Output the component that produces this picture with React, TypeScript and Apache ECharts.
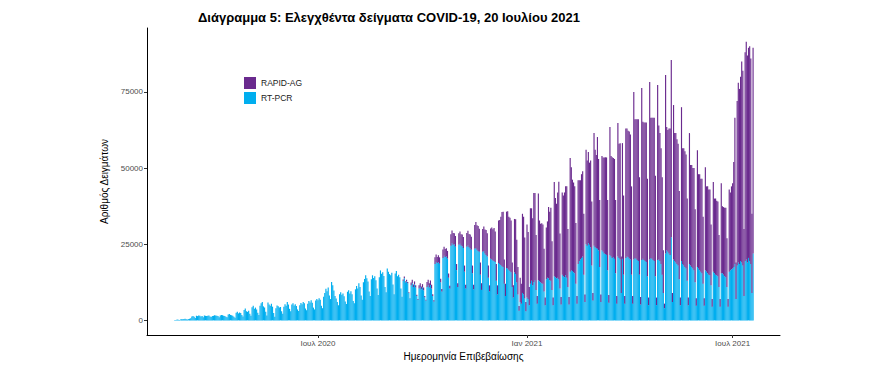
import { useEffect, useRef } from "react";
import * as echarts from "echarts";

// first day of the series: 26 Feb 2020 (Wednesday); one line per week (Mon..Sun)
const startYear = 2020;
const startMonth = 1; // February (0-based)
const startDay = 26;

const pcr: number[] = [
  100, 150, 250, 200, 150,
  300, 400, 350, 450, 500, 400, 250,
  400, 500, 700, 1300, 1400, 1200, 800,
  1500, 1400, 1600, 1500, 1300, 1400, 1000,
  1600, 1500, 1400, 1500, 1600, 1300, 1100,
  1400, 1500, 1700, 1600, 1500, 1400, 1000,
  1600, 1800, 1700, 1500, 1400, 1200, 1000,
  1900, 2100, 1800, 1700, 1500, 1200, 900,
  2500, 2800, 2300, 2600, 2400, 1800, 1300,
  3400, 3900, 3000, 2800, 3200, 2200, 1500,
  4300, 4800, 3800, 4200, 3600, 2500, 1800,
  4800, 5600, 6000, 4600, 4200, 2800, 1600,
  5900, 5200, 4800, 5500, 4500, 2400, 1200,
  4000, 4900, 4600, 4200, 4400, 3000, 2200,
  4500, 5300, 4800, 6000, 5200, 3800, 3000,
  5200, 5600, 4900, 5300, 4700, 3600, 3100,
  5000, 5700, 5300, 6000, 5600, 3900, 3300,
  5500, 6400, 5900, 6600, 5800, 4200, 3600,
  6500, 7000, 6600, 7300, 6800, 4800, 4000,
  7800, 9000, 10400, 9600, 10800, 8200, 7000,
  12600, 11500, 9800, 8000, 7200, 6000, 5000,
  8600, 9200, 8400, 8800, 7900, 6200, 5400,
  9400, 9900, 8800, 9600, 8600, 6400, 5600,
  10200, 11300, 10500, 12200, 11000, 8200, 6800,
  12500, 13600, 14800, 13800, 12800, 9500, 8000,
  13500, 14800, 13900, 14500, 13200, 10500, 8300,
  14200, 16400, 15300, 15800, 14600, 11000, 9200,
  17000, 16000, 15200, 14800, 15600, 11800, 8600,
  15400, 16200, 14500, 15000, 14200, 10500, 7800,
  13000, 13800, 12500, 12800, 12200, 9000, 7200,
  11500, 12200, 11000, 11800, 10800, 8000, 6800,
  10500, 11000, 10200, 10800, 9900, 7600, 6500,
  11000, 11500, 10800, 11600, 10500, 8000, 6200,
  18500, 19200, 18800, 19100, 18600, 12500, 9500,
  20500, 21200, 20800, 21000, 20300, 14000, 10500,
  24500, 25300, 24800, 25000, 24200, 16500, 11000,
  24800, 25200, 24600, 24300, 23800, 16000, 10500,
  24200, 24600, 24000, 23600, 23200, 15500, 10200,
  23500, 23800, 23200, 22800, 22500, 15000, 10000,
  22500, 22800, 22000, 21500, 21000, 14000, 9500,
  20200, 20000, 19700, 19500, 19200, 13000, 8500,
  18800, 18500, 18200, 17800, 17500, 12000, 8000,
  17200, 17000, 16600, 16200, 15800, 11000, 7500,
  15800, 15200, 12500, 8500, 3200, 6000, 5500,
  9000, 8500, 7200, 3000, 7500, 7000, 5000,
  12000, 13000, 11500, 12500, 13200, 10000, 5500,
  13200, 12800, 12500, 12200, 12000, 9500, 5000,
  13500, 14000, 13800, 13200, 13000, 10000, 5000,
  14500, 14200, 13800, 14000, 13500, 10500, 5200,
  15000, 14500, 14200, 14800, 14000, 11000, 5200,
  16000, 16500, 16200, 15800, 15500, 12000, 5500,
  18500, 19500, 20000, 20500, 21000, 15000, 6000,
  25000, 24500, 25300, 24800, 24000, 18000, 6500,
  24500, 24000, 23800, 23500, 23000, 17500, 6000,
  23000, 22500, 22000, 21800, 21500, 16500, 5800,
  21500, 21000, 20500, 20800, 20200, 15500, 5500,
  21000, 20500, 20000, 9000, 20200, 15000, 5500,
  20500, 21000, 20800, 20300, 20000, 15000, 5500,
  20000, 20500, 20200, 19800, 19500, 15000, 5200,
  19800, 20200, 19800, 19500, 19200, 14500, 5000,
  20000, 20500, 20200, 19800, 19500, 14500, 5000,
  19800, 20000, 19500, 18500, 15000, 9000, 4000,
  22000, 23000, 22500, 22000, 21500, 27300, 6000,
  20000, 19500, 19000, 18500, 18000, 13500, 5000,
  19500, 18500, 18000, 17500, 17000, 13000, 5000,
  18500, 18000, 17500, 17000, 16500, 12500, 4800,
  17500, 17000, 16500, 16000, 15500, 12000, 4800,
  16500, 16000, 15500, 15000, 14800, 11500, 4500,
  16000, 15500, 15000, 14800, 14500, 11000, 4500,
  15500, 15500, 15000, 14500, 14200, 11000, 4500,
  16000, 16500, 16800, 17000, 17500, 18500, 7000,
  18000, 19000, 18500, 19500, 19000, 18000, 8000,
  19500, 20000, 19000, 20500, 19500, 18500, 9000,
  22000,
];

const rapid: number[] = [
  0, 0, 0, 0, 0,
  0, 0, 0, 0, 0, 0, 0,
  0, 0, 0, 0, 0, 0, 0,
  0, 0, 0, 0, 0, 0, 0,
  0, 0, 0, 0, 0, 0, 0,
  0, 0, 0, 0, 0, 0, 0,
  0, 0, 0, 0, 0, 0, 0,
  0, 0, 0, 0, 0, 0, 0,
  0, 0, 0, 0, 0, 0, 0,
  0, 0, 0, 0, 0, 0, 0,
  0, 0, 0, 0, 0, 0, 0,
  0, 0, 0, 0, 0, 0, 0,
  0, 0, 0, 0, 0, 0, 0,
  0, 0, 0, 0, 0, 0, 0,
  0, 0, 0, 0, 0, 0, 0,
  0, 0, 0, 0, 0, 0, 0,
  0, 0, 0, 0, 0, 0, 0,
  0, 0, 0, 0, 0, 0, 0,
  0, 0, 0, 0, 0, 0, 0,
  0, 0, 0, 0, 0, 0, 0,
  0, 0, 0, 0, 0, 0, 0,
  0, 0, 0, 0, 0, 0, 0,
  0, 0, 0, 0, 0, 0, 0,
  0, 0, 0, 0, 0, 0, 0,
  0, 0, 0, 0, 0, 0, 0,
  0, 0, 0, 0, 0, 0, 0,
  0, 0, 0, 0, 0, 0, 0,
  0, 0, 0, 0, 0, 0, 0,
  0, 0, 0, 0, 0, 0, 0,
  400, 600, 300, 500, 400, 200, 100,
  900, 1100, 800, 1000, 700, 400, 200,
  1000, 1200, 900, 1100, 900, 400, 300,
  1600, 1800, 1400, 1500, 1200, 600, 400,
  2200, 2400, 2000, 2300, 2100, 1200, 800,
  2800, 3000, 2600, 2700, 2500, 1400, 900,
  3800, 4200, 3900, 3600, 3500, 2000, 1200,
  3800, 4000, 3700, 3900, 3600, 2000, 1200,
  4500, 4800, 4400, 4600, 4300, 2500, 1500,
  7800, 8500, 8000, 8200, 7600, 4000, 2200,
  7500, 8000, 7800, 8200, 7600, 4000, 2000,
  10000, 10500, 10200, 10800, 10000, 5500, 3000,
  14000, 14500, 15800, 17800, 18200, 8000, 4000,
  18500, 18800, 17400, 17500, 17000, 8000, 4000,
  17500, 18000, 14000, 9000, 1500, 8000, 6500,
  26000, 25500, 20000, 3000, 24000, 22000, 6000,
  24800, 23800, 22000, 29300, 28600, 18000, 2500,
  28500, 20000, 19200, 19700, 19500, 14000, 2500,
  17000, 18500, 23400, 22500, 24000, 16000, 2500,
  30900, 26000, 24500, 28000, 32000, 18000, 2500,
  27000, 26500, 27800, 29200, 30000, 19000, 2500,
  37300, 33800, 30000, 29500, 28500, 20000, 2500,
  27500, 26500, 26000, 27500, 28000, 20000, 2500,
  31000, 28000, 30000, 27000, 28500, 21000, 2500,
  37000, 32000, 30500, 36700, 30000, 22000, 2500,
  31000, 31000, 31500, 31800, 32000, 23000, 2500,
  42000, 33000, 33100, 32500, 32800, 24000, 2500,
  43800, 37500, 38200, 12000, 38000, 26000, 2500,
  42500, 42000, 41500, 41700, 41000, 29000, 2500,
  55000, 45500, 45800, 46200, 46500, 32000, 2500,
  56500, 45000, 45200, 45500, 45800, 32000, 2500,
  58300, 46000, 46300, 46700, 47000, 33000, 2500,
  57500, 44000, 42000, 38000, 32000, 14000, 1500,
  58600, 40500, 40000, 41000, 41500, 58200, 3000,
  50700, 42000, 42500, 41000, 40000, 29000, 2500,
  50500, 38000, 38500, 38000, 37500, 27000, 2500,
  43000, 33000, 33500, 33000, 33500, 24000, 2500,
  38400, 31000, 31500, 30500, 31000, 22000, 2500,
  33800, 28000, 28500, 28000, 28200, 20000, 2500,
  29400, 24500, 25000, 24500, 24500, 17000, 2500,
  29500, 22000, 22200, 22500, 22800, 16000, 2500,
  27000, 25500, 27200, 28000, 34500, 48000, 12000,
  54000, 59000, 57500, 60500, 66000, 64000, 22000,
  68500, 71500, 68000, 69000, 70500, 67500, 26000,
  67500,
];

const seriesNames = ["RT-PCR", "RAPID-AG"];
const legendOrder = ["RAPID-AG", "RT-PCR"];
const yTicks = [0, 25000, 50000, 75000];
const xTickDates = [
  [2020, 6, 1],
  [2021, 0, 1],
  [2021, 6, 1],
];
const xTickLabels = ["Ιουλ 2020", "Ιαν 2021", "Ιουλ 2021"];

const titleText = "Διάγραμμα 5: Ελεγχθέντα δείγματα COVID-19, 20 Ιουλίου 2021";
const xName = "Ημερομηνία Επιβεβαίωσης";
const yName = "Αριθμός Δειγμάτων";

const BLUE = "#00AEEF";
const PURPLE = "#6A2A8E";
const FONT = "Liberation Sans, Arial, sans-serif";
const DAY = 86400000;

export default function App() {
  const ref = useRef<HTMLDivElement>(null);
  useEffect(() => {
    if (!ref.current) return;
    const chart = echarts.init(ref.current, undefined, { renderer: "svg" });
    const t0 = new Date(startYear, startMonth, startDay).getTime();
    const dayIndex = (t: number) => Math.round((t - t0) / DAY);
    const days = pcr.map((_, i) => dayIndex(new Date(startYear, startMonth, startDay + i).getTime()));
    const tickDays = xTickDates.map(([y, m, d]) => dayIndex(new Date(y, m, d).getTime()));
    const xMin = dayIndex(new Date(2020, 1, 1).getTime()) + 0.5;
    const xMax = dayIndex(new Date(2021, 7, 11).getTime()) + 0.7;
    // value first, day second, so that the stack is computed on the value dimension
    const pcrData = days.map((d, i) => [pcr[i], d]);
    const rapidData = days.map((d, i) => [rapid[i], d]);
    chart.setOption({
      animation: false,
      textStyle: { fontFamily: FONT },
      title: {
        text: titleText,
        left: 193,
        top: 6,
        textStyle: { fontSize: 13, fontWeight: "bold", color: "#000", fontFamily: FONT },
      },
      legend: {
        data: legendOrder,
        orient: "vertical",
        left: 239,
        top: 72,
        itemWidth: 12,
        itemHeight: 12,
        itemGap: 3,
        icon: "rect",
        textStyle: { fontSize: 8.5, color: "#1a1a1a", fontFamily: FONT },
      },
      grid: { left: 147, right: 99, top: 28, bottom: 49, containLabel: false },
      xAxis: {
        type: "value",
        min: xMin,
        max: xMax,
        name: xName,
        nameLocation: "middle",
        nameGap: 14,
        nameTextStyle: { fontSize: 10, color: "#000", fontFamily: FONT },
        axisLine: { show: true, onZero: false, lineStyle: { color: "#000", width: 1 } },
        axisTick: { show: true, length: 3, customValues: tickDays, lineStyle: { color: "#333" } },
        axisLabel: {
          customValues: tickDays,
          fontSize: 8,
          color: "#4D4D4D",
          margin: 4,
          formatter: (v: number) => {
            const idx = tickDays.findIndex((t) => Math.abs(t - v) < 0.5);
            return idx >= 0 ? xTickLabels[idx] : "";
          },
        },
        splitLine: { show: false },
      },
      yAxis: {
        type: "value",
        min: -4800,
        max: 96000,
        name: yName,
        nameLocation: "middle",
        nameGap: 26,
        nameTextStyle: { fontSize: 10, color: "#000", fontFamily: FONT },
        axisLine: { show: true, onZero: false, lineStyle: { color: "#000", width: 1 } },
        axisTick: { show: true, length: 3, customValues: yTicks, lineStyle: { color: "#333" } },
        axisLabel: {
          customValues: yTicks,
          fontSize: 8,
          color: "#4D4D4D",
          margin: 4,
          formatter: (v: number) => String(v),
        },
        splitLine: { show: false },
      },
      series: [
        {
          name: seriesNames[0],
          type: "bar",
          stack: "total",
          barWidth: 1.15,
          encode: { x: 1, y: 0 },
          itemStyle: { color: BLUE },
          data: pcrData,
        },
        {
          name: seriesNames[1],
          type: "bar",
          stack: "total",
          barWidth: 1.15,
          encode: { x: 1, y: 0 },
          itemStyle: { color: PURPLE },
          data: rapidData,
        },
      ],
    });
    return () => chart.dispose();
  }, []);
  return (
    <div
      ref={ref}
      style={{ position: "fixed", left: 0, top: 0, width: 879, height: 384, background: "#fff" }}
    />
  );
}
